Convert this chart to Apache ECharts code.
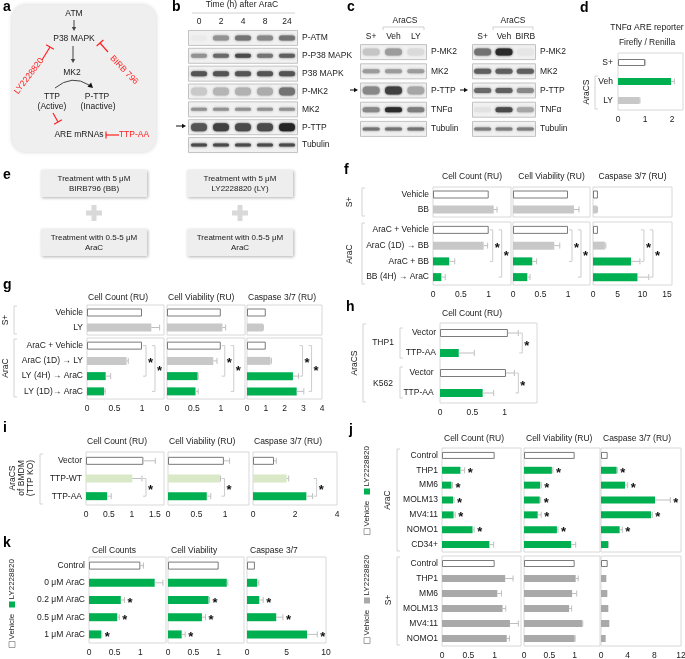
<!DOCTYPE html>
<html><head><meta charset="utf-8">
<script src="https://cdn.jsdelivr.net/npm/echarts@6/dist/echarts.min.js"></script>
<style>html,body{margin:0;padding:0;background:#fff}#c{width:685px;height:659px}</style>
</head><body><div id="c"></div>
<script>
// ===== DATA =====
// b: western blot, band intensity 0..1 per row x lane
const bLanes = ['0', '2', '4', '8', '24'];
const bRows = ['P-ATM', 'P-P38 MAPK', 'P38 MAPK', 'P-MK2', 'MK2', 'P-TTP', 'Tubulin'];
const bBands = [
  [0.02, 0.45, 0.6, 0.5, 0.6],
  [0.45, 0.65, 0.8, 0.6, 0.7],
  [0.75, 0.75, 0.75, 0.75, 0.75],
  [0.18, 0.28, 0.3, 0.32, 0.6],
  [0.45, 0.45, 0.45, 0.45, 0.45],
  [0.75, 0.85, 0.8, 0.8, 0.98],
  [0.8, 0.8, 0.8, 0.8, 0.8]
];
// c: two blots
const cLanesL = ['S+', 'Veh', 'LY'];
const cLanesR = ['S+', 'Veh', 'BIRB'];
const cRows = ['P-MK2', 'MK2', 'P-TTP', 'TNFα', 'Tubulin'];
const cBandsL = [[0.2, 0.4, 0.1], [0.4, 0.4, 0.4], [0.5, 0.85, 0.35], [0.5, 0.95, 0.55], [0.6, 0.6, 0.6]];
const cBandsR = [[0.6, 0.95, 0.04], [0.7, 0.7, 0.7], [0.65, 0.7, 0.5], [0.06, 0.8, 0.35], [0.55, 0.55, 0.55]];
// d
const dCats = ['S+', 'Veh', 'LY'];
const dValues = [1.0, 1.96, 0.79];
const dErrors = [0.02, 0.12, 0.02];
// f
const fCatsS = ['Vehicle', 'BB'];
const fCatsA = ['AraC + Vehicle', 'AraC (1D) → BB', 'AraC + BB', 'BB (4H) → AraC'];
const fCountS = [1.0, 1.09], fCountSErr = [0, 0.06];
const fCountA = [1.0, 0.91, 0.29, 0.15], fCountAErr = [0, 0.07, 0.10, 0.07];
const fViabS = [1.0, 1.11], fViabSErr = [0, 0.09];
const fViabA = [1.0, 0.75, 0.35, 0.26], fViabAErr = [0, 0.10, 0.08, 0.05];
const fCaspS = [1.0, 0.8], fCaspSErr = [0, 0.1];
const fCaspA = [1.0, 2.4, 7.7, 9.0], fCaspAErr = [0, 0.2, 1.8, 2.3];
const fCompare = [[0, 2], [0, 3]];
// g
const gCatsS = ['Vehicle', 'LY'];
const gCatsA = ['AraC + Vehicle', 'AraC (1D) → LY', 'LY (4H) → AraC', 'LY (1D)→ AraC'];
const gCountS = [1.0, 1.17], gCountSErr = [0, 0.15];
const gCountA = [1.0, 0.72, 0.34, 0.31], gCountAErr = [0, 0.03, 0.09, 0.02];
const gViabS = [1.0, 1.03], gViabSErr = [0, 0.06];
const gViabA = [1.0, 0.86, 0.57, 0.53], gViabAErr = [0, 0.07, 0.01, 0.05];
const gCaspS = [1.0, 0.85], gCaspSErr = [0, 0.02];
const gCaspA = [1.0, 1.25, 2.45, 2.65], gCaspAErr = [0, 0.05, 0.3, 0.38];
const gCompare = [[0, 2], [0, 3]];
// h
const hCats = ['Vector', 'TTP-AA', 'Vector ', 'TTP-AA '];
const hGroups = ['THP1', 'K562'];
const hValues = [1.05, 0.29, 1.02, 0.66];
const hErrors = [0.16, 0.24, 0.13, 0.17];
const hCompare = [[0, 1], [2, 3]];
// i
const iCats = ['Vector', 'TTP-WT', 'TTP-AA'];
const iCount = [1.25, 1.01, 0.46], iCountErr = [0.26, 0.21, 0.09];
const iViab = [0.98, 0.91, 0.68], iViabErr = [0.1, 0.01, 0.07];
const iCasp = [1.0, 1.6, 2.54], iCaspErr = [0.11, 0.1, 0.3];
const iCompare = [[1, 2]];
// j
const jCatsA = ['Control', 'THP1', 'MM6', 'MOLM13', 'MV4:11', 'NOMO1', 'CD34+'];
const jCatsS = ['Control', 'THP1', 'MM6', 'MOLM13', 'MV4:11', 'NOMO1'];
const jCountA = [1.0, 0.35, 0.18, 0.21, 0.22, 0.58, 0.9], jCountAErr = [0, 0.08, 0.02, 0.02, 0.03, 0.03, 0.08];
const jViabA = [1.0, 0.55, 0.32, 0.31, 0.27, 0.65, 0.93], jViabAErr = [0, 0.02, 0.02, 0.02, 0.07, 0.02, 0.09];
const jCaspA = [1.0, 2.35, 3.6, 8.1, 7.5, 2.8, 1.1], jCaspAErr = [0, 0.1, 0.4, 2.3, 0.2, 0.4, 0.05];
const jSigA = [0, 1, 1, 1, 1, 1, 0];
const jCountS = [1.0, 1.2, 1.05, 1.15, 1.29, 1.23], jCountSErr = [0, 0.15, 0.08, 0.06, 0.16, 0.05];
const jViabS = [1.0, 1.02, 0.95, 0.89, 1.15, 1.0], jViabSErr = [0, 0.05, 0.09, 0.05, 0.01, 0.01];
const jCaspS = [1.0, 0.8, 0.95, 1.1, 1.25, 0.7], jCaspSErr = [0, 0, 0, 0, 0, 0];
// k
const kCats = ['Control', '0 μM AraC', '0.2 μM AraC', '0.5 μM AraC', '1 μM AraC'];
const kCount = [1.0, 1.28, 0.62, 0.55, 0.24], kCountErr = [0.06, 0.16, 0.07, 0.04, 0.01];
const kViab = [1.0, 1.16, 0.8, 0.67, 0.27], kViabErr = [0, 0.02, 0.02, 0.07, 0.07];
const kCasp = [1.0, 1.3, 1.55, 3.7, 7.6], kCaspErr = [0, 0.2, 0.5, 0.85, 1.3];
const kSig = [0, 0, 1, 1, 1];

// ===== BUILD =====
const FONT = "'Liberation Sans', Arial, Helvetica, sans-serif";
const TXT = '#1a1a1a';
const RED = '#ff2020';
const ERRC = '#bfbfbf';
const BRC = '#cccccc';
const STY = {
  white: {color: '#ffffff', borderColor: '#7a7a7a', borderWidth: 1},
  gray: {color: '#c8c8c8'},
  dgray: {color: '#a9a9a9'},
  green: {color: '#00b050'},
  lgreen: {color: '#d9e8c6'}
};
const grids = [], xAxes = [], yAxes = [], series = [], graphics = [];

function T(x, y, text, o) {
  o = o || {};
  const al = o.align || 'center', va = o.valign || 'middle';
  return {type: 'text', x: x, y: y, rotation: o.rot || 0, silent: true, z: 20,
    style: {text: text, font: (o.weight || 'normal') + ' ' + (o.size || 8.5) + 'px ' + FONT,
      fill: o.color || TXT, textAlign: al, textVerticalAlign: va, align: al, verticalAlign: va}};
}
function L(x1, y1, x2, y2, c, w) {
  return {type: 'line', silent: true, z: 15, shape: {x1: x1, y1: y1, x2: x2, y2: y2}, style: {stroke: c || BRC, lineWidth: w || 1}};
}
function arrowHead(x2, y2, a, c, s) {
  const hx = x2 - s * Math.cos(a), hy = y2 - s * Math.sin(a);
  const px = -Math.sin(a) * s * 0.55, py = Math.cos(a) * s * 0.55;
  return {type: 'polygon', silent: true, z: 15, shape: {points: [[x2, y2], [hx + px, hy + py], [hx - px, hy - py]]}, style: {fill: c}};
}
function arrow(x1, y1, x2, y2, c, s) {
  s = s || 4;
  const a = Math.atan2(y2 - y1, x2 - x1);
  return [L(x1, y1, x2 - s * Math.cos(a), y2 - s * Math.sin(a), c, 1), arrowHead(x2, y2, a, c, s)];
}
function inhibit(x1, y1, x2, y2, c, half) {
  const a = Math.atan2(y2 - y1, x2 - x1);
  const px = -Math.sin(a) * half, py = Math.cos(a) * half;
  return [L(x1, y1, x2, y2, c, 1.2), L(x2 + px, y2 + py, x2 - px, y2 - py, c, 1.2)];
}
function vBracket(x, y1, y2, dir) {
  const d = dir || 1;
  return [{type: 'polyline', silent: true, z: 15, shape: {points: [[x + 3 * d, y1], [x, y1], [x, y2], [x + 3 * d, y2]]}, style: {stroke: '#d3d3d3', lineWidth: 1, fill: null}}];
}
function starEl(x, y) {
  return {type: 'text', x: x, y: y + 3, silent: true,
    style: {text: '*', font: 'bold 13px ' + FONT, fill: '#111', textAlign: 'left', textVerticalAlign: 'middle', align: 'left', verticalAlign: 'middle'}};
}

function barPanel(o) {
  const gi = grids.length;
  const errs = o.errs || o.values.map(() => 0);
  const stars = o.stars || o.values.map(() => 0);
  grids.push({left: o.left, top: o.top, width: o.width, height: o.height, show: true,
    borderColor: '#d8d8d8', borderWidth: 1, backgroundColor: 'rgba(0,0,0,0)', containLabel: false, outerBoundsMode: 'none'});
  xAxes.push({gridIndex: gi, type: 'value', min: 0, max: o.max, interval: o.interval,
    axisLine: {show: false}, axisTick: {show: false}, splitLine: {show: false},
    axisLabel: {show: !!o.showX, fontSize: 8.5, color: TXT, fontFamily: FONT, margin: 5,
      showMinLabel: true, showMaxLabel: !!o.maxLabel, hideOverlap: false}});
  yAxes.push({gridIndex: gi, type: 'category', inverse: true, data: o.cats,
    axisLine: {show: false}, axisTick: {show: false}, splitLine: {show: false},
    axisLabel: {show: !!o.showY, fontSize: 8.5, color: TXT, fontFamily: FONT, margin: o.ymargin || 4, interval: 0}});
  series.push({type: 'bar', xAxisIndex: gi, yAxisIndex: gi, barWidth: o.barW || 8, silent: true, z: 2,
    data: o.values.map((v, i) => ({value: v, itemStyle: STY[o.colors[i]]}))});
  series.push({type: 'custom', xAxisIndex: gi, yAxisIndex: gi, clip: false, silent: true, z: 3,
    encode: {x: 0, y: 1},
    data: o.values.map((v, i) => [v, i, errs[i], stars[i]]),
    renderItem: function (p, api) {
      const v = api.value(0), i = api.value(1), e = api.value(2), s = api.value(3);
      const p0 = api.coord([v, i]), p1 = api.coord([v + e, i]);
      const ch = [];
      if (e > 0) {
        ch.push({type: 'line', shape: {x1: p0[0], y1: p0[1], x2: p1[0], y2: p1[1]}, style: {stroke: ERRC, lineWidth: 1}});
        ch.push({type: 'line', shape: {x1: p1[0], y1: p1[1] - 3, x2: p1[0], y2: p1[1] + 3}, style: {stroke: ERRC, lineWidth: 1}});
      }
      if (s) ch.push(starEl(p1[0] + 3, p1[1]));
      return {type: 'group', children: ch};
    }});
  if (o.brackets) {
    series.push({type: 'custom', xAxisIndex: gi, yAxisIndex: gi, clip: false, silent: true, z: 3,
      encode: {x: 0, y: 1},
      data: o.brackets.map((b, k) => [0, b[0], b[1], k]),
      renderItem: function (p, api) {
        const k = api.value(3);
        const xs = [];
        for (let m = 0; m <= k; m++) {
          const a = o.brackets[m][0], b = o.brackets[m][1];
          let mx = 0;
          for (let r = a; r <= b; r++) mx = Math.max(mx, api.coord([o.values[r] + errs[r], r])[0]);
          let x = mx + 4;
          for (let q = 0; q < m; q++) {
            const a2 = o.brackets[q][0], b2 = o.brackets[q][1];
            if (!(b2 < a || a2 > b)) x = Math.max(x, xs[q] + 9);
          }
          xs.push(x);
        }
        const a = o.brackets[k][0], b = o.brackets[k][1], x = xs[k];
        const ya = api.coord([0, a])[1], yb = api.coord([0, b])[1];
        return {type: 'group', children: [
          {type: 'polyline', shape: {points: [[x - 3, ya], [x, ya], [x, yb], [x - 3, yb]]}, style: {stroke: BRC, lineWidth: 1, fill: null}},
          starEl(x + 2, (ya + yb) / 2)
        ]};
      }});
  }
}

function blotPanel(o) {
  const gi = grids.length;
  grids.push({left: o.left, top: o.top, width: o.width, height: o.height, show: false, containLabel: false, outerBoundsMode: 'none'});
  xAxes.push({gridIndex: gi, type: 'category', position: 'top', data: o.lanes, boundaryGap: true,
    axisLine: {show: false}, axisTick: {show: false}, splitLine: {show: false},
    axisLabel: {show: true, fontSize: 8.5, color: TXT, fontFamily: FONT, margin: o.laneMargin, interval: 0}});
  yAxes.push({gridIndex: gi, type: 'category', position: 'right', inverse: true, data: o.rows,
    axisLine: {show: false}, axisTick: {show: false}, splitLine: {show: false},
    axisLabel: {show: true, fontSize: 8.5, color: TXT, fontFamily: FONT, margin: 4, align: 'left', interval: 0}});
  series.push({type: 'custom', xAxisIndex: gi, yAxisIndex: gi, clip: false, silent: true, z: 1,
    encode: {x: 0, y: 1},
    data: o.rows.map((r, i) => [0, i]),
    renderItem: function (p, api) {
      const cs = p.coordSys;
      const y = api.coord([0, api.value(1)])[1];
      return {type: 'rect', shape: {x: cs.x + 0.5, y: y - o.stripH / 2, width: cs.width - 1, height: o.stripH},
        style: {fill: '#f1f1f1', stroke: '#c2c2c2', lineWidth: 1}};
    }});
  const bd = [];
  o.bands.forEach((row, ri) => row.forEach((v, li) => bd.push([li, ri, v])));
  series.push({type: 'custom', xAxisIndex: gi, yAxisIndex: gi, clip: false, silent: true, z: 2,
    encode: {x: 0, y: 1},
    data: bd,
    renderItem: function (p, api) {
      const c = api.coord([api.value(0), api.value(1)]);
      const v = api.value(2);
      const h = o.bandH[api.value(1)];
      const g = Math.round(238 - v * 205);
      const col = 'rgb(' + g + ',' + g + ',' + g + ')';
      return {type: 'rect', shape: {x: c[0] - o.bandW / 2, y: c[1] - h / 2, width: o.bandW, height: h, r: h / 2},
        style: {fill: col, shadowBlur: 2.5, shadowColor: col}};
    }});
}

// ----- panel letters -----
[['a', 3, 0], ['b', 172, 0], ['c', 347, 0], ['d', 580, 1], ['e', 3, 168], ['f', 344, 163], ['g', 3, 278],
 ['h', 346, 300], ['i', 3, 421], ['j', 349, 423], ['k', 3, 536]].forEach(l => graphics.push(T(l[1], l[2], l[0], {size: 14, weight: 'bold', align: 'left', valign: 'top', color: '#000'})));

// ----- panel a (schematic) -----
graphics.push({type: 'rect', silent: true, z: 5, shape: {x: 12, y: 5, width: 144, height: 147, r: 14},
  style: {fill: '#efefef', shadowBlur: 4, shadowColor: 'rgba(0,0,0,0.18)'}});
graphics.push(T(74, 14, 'ATM'), T(74, 39, 'P38 MAPK'), T(72, 73, 'MK2'),
  T(52, 97, 'TTP'), T(52, 107, '(Active)'), T(97, 97, 'P-TTP'), T(98, 107, '(Inactive)'),
  T(79, 135, 'ARE mRNAs'), T(134, 135, 'TTP-AA', {color: RED}),
  T(29, 76, 'LY2228820', {color: RED, rot: 0.92}), T(124, 70, 'BIRB 796', {color: RED, rot: -0.8}));
graphics.push(...arrow(74, 20, 74, 31, '#444'), ...arrow(73, 46, 73, 63, '#444'));
graphics.push({type: 'bezierCurve', silent: true, z: 15, shape: {x1: 55, y1: 88, cpx1: 72, cpy1: 74, x2: 89, y2: 85}, style: {stroke: '#444', lineWidth: 1, fill: null}});
graphics.push(arrowHead(93, 88, Math.atan2(88 - 80, 93 - 84), '#111', 5));
graphics.push(...inhibit(42, 60, 50, 47, RED, 4.5), ...inhibit(108, 52, 100, 43, RED, 4.5),
  ...inhibit(53, 113, 58, 122, RED, 4.5), ...inhibit(119, 135, 106, 135, RED, 3.5));

// ----- panel b -----
graphics.push(T(242, 5, 'Time (h) after AraC'), L(192, 13, 295, 13, '#d0d0d0', 1));
blotPanel({left: 188, top: 29, width: 110, height: 125, lanes: bLanes, rows: bRows, bands: bBands,
  laneMargin: 3, stripH: 15, bandW: 16, bandH: [5, 4, 5, 8, 3, 8, 3]});
graphics.push(...arrow(176, 126, 186, 126, '#111', 4));

// ----- panel c -----
blotPanel({left: 360, top: 42.5, width: 67, height: 96, lanes: cLanesL, rows: cRows, bands: cBandsL,
  laneMargin: 1, stripH: 15, bandW: 17, bandH: [7, 4, 8, 5, 3]});
blotPanel({left: 472, top: 42.5, width: 64, height: 96, lanes: cLanesR, rows: cRows, bands: cBandsR,
  laneMargin: 1, stripH: 15, bandW: 17, bandH: [7, 5, 5, 5, 3]});
graphics.push(T(405, 21, 'AraCS'), T(513, 21, 'AraCS'));
graphics.push({type: 'polyline', silent: true, shape: {points: [[383, 30], [383, 27], [424, 27], [424, 30]]}, style: {stroke: '#cfcfcf', fill: null}});
graphics.push({type: 'polyline', silent: true, shape: {points: [[493, 30], [493, 27], [533, 27], [533, 30]]}, style: {stroke: '#cfcfcf', fill: null}});
graphics.push(...arrow(350, 90, 358, 90, '#111', 4), ...arrow(460, 90, 468, 90, '#111', 4));

// ----- panel d -----
graphics.push(T(647, 28, 'TNFα ARE reporter'), T(647, 43, 'Firefly / Renilla'));
barPanel({left: 618, top: 53, width: 65, height: 57, cats: dCats, values: dValues, errs: dErrors,
  colors: ['white', 'green', 'gray'], max: 2.4, interval: 1, showX: true, showY: true, barW: 7, ymargin: 5});
graphics.push(T(587, 92, 'AraCS', {rot: Math.PI / 2}), ...vBracket(595, 76, 109));

// ----- panel e -----
function ebox(x, y, w, h, l1, l2) {
  graphics.push({type: 'rect', silent: true, z: 5, shape: {x: x, y: y, width: w, height: h},
    style: {fill: '#eeeeee', shadowBlur: 3, shadowOffsetX: 1, shadowOffsetY: 1, shadowColor: 'rgba(0,0,0,0.3)'}});
  graphics.push(T(x + w / 2, y + h / 2 - 5, l1, {size: 8}), T(x + w / 2, y + h / 2 + 5, l2, {size: 8}));
}
ebox(41, 170, 106, 27, 'Treatment with 5 μM', 'BIRB796 (BB)');
ebox(187, 170, 106, 27, 'Treatment with 5 μM', 'LY2228820 (LY)');
ebox(41, 229, 106, 27, 'Treatment with 0.5-5 μM', 'AraC');
ebox(187, 229, 106, 27, 'Treatment with 0.5-5 μM', 'AraC');
[[94, 213], [240, 213]].forEach(p => {
  graphics.push({type: 'rect', silent: true, shape: {x: p[0] - 8, y: p[1] - 2.5, width: 16, height: 5}, style: {fill: '#d9d9d9'}});
  graphics.push({type: 'rect', silent: true, shape: {x: p[0] - 2.5, y: p[1] - 8, width: 5, height: 16}, style: {fill: '#d9d9d9'}});
});

// ----- panel f -----
const fCols = [
  {left: 433, width: 78, max: 1.4, interval: 0.5, s: fCountS, se: fCountSErr, a: fCountA, ae: fCountAErr, title: 'Cell Count (RU)'},
  {left: 513, width: 77, max: 1.4, interval: 0.5, s: fViabS, se: fViabSErr, a: fViabA, ae: fViabAErr, title: 'Cell Viability (RU)'},
  {left: 593, width: 79, max: 16, interval: 5, s: fCaspS, se: fCaspSErr, a: fCaspA, ae: fCaspAErr, title: 'Caspase 3/7 (RU)'}
];
fCols.forEach((c, ci) => {
  graphics.push(T(c.left + c.width / 2, 177, c.title));
  barPanel({left: c.left, top: 187, width: c.width, height: 30, cats: fCatsS, values: c.s, errs: c.se,
    colors: ['white', 'gray'], max: c.max, interval: c.interval, showY: ci === 0});
  barPanel({left: c.left, top: 222, width: c.width, height: 63, cats: fCatsA, values: c.a, errs: c.ae,
    colors: ['white', 'gray', 'green', 'green'], max: c.max, interval: c.interval, showY: ci === 0, showX: true, brackets: fCompare});
});
graphics.push(T(350, 202, 'S+', {rot: Math.PI / 2}), T(350, 254, 'AraC', {rot: Math.PI / 2}),
  ...vBracket(362, 188, 216), ...vBracket(362, 223, 284));

// ----- panel g -----
const gCols = [
  {left: 87, width: 77, max: 1.4, interval: 0.5, s: gCountS, se: gCountSErr, a: gCountA, ae: gCountAErr, title: 'Cell Count (RU)'},
  {left: 167, width: 78, max: 1.45, interval: 0.5, s: gViabS, se: gViabSErr, a: gViabA, ae: gViabAErr, title: 'Cell Viability (RU)'},
  {left: 247, width: 75, max: 4, interval: 1, s: gCaspS, se: gCaspSErr, a: gCaspA, ae: gCaspAErr, title: 'Caspase 3/7 (RU)', ml: true}
];
gCols.forEach((c, ci) => {
  graphics.push(T(c.left + 1, 298, c.title, {align: 'left'}));
  barPanel({left: c.left, top: 305, width: c.width, height: 30, cats: gCatsS, values: c.s, errs: c.se,
    colors: ['white', 'gray'], max: c.max, interval: c.interval, showY: ci === 0});
  barPanel({left: c.left, top: 338, width: c.width, height: 61, cats: gCatsA, values: c.a, errs: c.ae,
    colors: ['white', 'gray', 'green', 'green'], max: c.max, interval: c.interval, showY: ci === 0, showX: true,
    maxLabel: c.ml, brackets: gCompare});
});
graphics.push(T(6, 320, 'S+', {rot: Math.PI / 2}), T(6, 368, 'AraC', {rot: Math.PI / 2}),
  ...vBracket(14, 306, 334), ...vBracket(14, 339, 397));

// ----- panel h -----
graphics.push(T(442, 314, 'Cell Count (RU)', {align: 'left'}));
barPanel({left: 440, top: 323, width: 97, height: 80, cats: hCats, values: hValues, errs: hErrors,
  colors: ['white', 'green', 'white', 'green'], max: 1.5, interval: 0.5, showX: true, showY: true, brackets: hCompare});
graphics.push(T(383, 343, hGroups[0]), T(383, 384, hGroups[1]),
  ...vBracket(400, 328, 358), ...vBracket(400, 367, 398),
  T(355, 363, 'AraCS', {rot: Math.PI / 2}), ...vBracket(363, 324, 402));

// ----- panel i -----
const iCols = [
  {left: 86, width: 78, max: 1.7, interval: 0.5, v: iCount, e: iCountErr, title: 'Cell Count (RU)'},
  {left: 168, width: 81, max: 1.42, interval: 0.5, v: iViab, e: iViabErr, title: 'Cell Viability (RU)'},
  {left: 253, width: 84, max: 4, interval: 2, v: iCasp, e: iCaspErr, title: 'Caspase 3/7 (RU)', ml: true}
];
iCols.forEach((c, ci) => {
  graphics.push(T(c.left + 1, 442, c.title, {align: 'left'}));
  barPanel({left: c.left, top: 452, width: c.width, height: 53, cats: iCats, values: c.v, errs: c.e,
    colors: ['white', 'lgreen', 'green'], max: c.max, interval: c.interval, showY: ci === 0, showX: true,
    maxLabel: c.ml, brackets: iCompare});
});
graphics.push(T(13, 478, 'AraCS', {rot: Math.PI / 2, size: 8.5}), T(22, 478, 'of BMDM', {rot: Math.PI / 2}),
  T(31, 478, '(TTP KO)', {rot: Math.PI / 2}), ...vBracket(40, 454, 504));

// ----- panel j -----
const jCols = [
  {left: 442, width: 79, max: 1.5, interval: 0.5, a: jCountA, ae: jCountAErr, s: jCountS, se: jCountSErr, title: 'Cell Count (RU)'},
  {left: 524, width: 76, max: 1.5, interval: 0.5, a: jViabA, ae: jViabAErr, s: jViabS, se: jViabSErr, title: 'Cell Viability (RU)'},
  {left: 601, width: 80, max: 12, interval: 4, a: jCaspA, ae: jCaspAErr, s: jCaspS, se: jCaspSErr, title: 'Caspase 3/7 (RU)', ml: true}
];
jCols.forEach((c, ci) => {
  graphics.push(T(c.left + 2, 439, c.title, {align: 'left'}));
  barPanel({left: c.left, top: 448, width: c.width, height: 104, cats: jCatsA, values: c.a, errs: c.ae, stars: jSigA,
    colors: ['white', 'green', 'green', 'green', 'green', 'green', 'green'], max: c.max, interval: c.interval, showY: ci === 0, barW: 7});
  barPanel({left: c.left, top: 556, width: c.width, height: 90, cats: jCatsS, values: c.s, errs: c.se,
    colors: ['white', 'dgray', 'dgray', 'dgray', 'dgray', 'dgray'], max: c.max, interval: c.interval, showY: ci === 0, showX: true,
    maxLabel: c.ml, barW: 7});
});
graphics.push(T(388, 500, 'AraC', {rot: Math.PI / 2}), T(389, 600, 'S+', {rot: Math.PI / 2}),
  ...vBracket(397, 449, 551), ...vBracket(397, 557, 645));

function vLegend(cx, cy, col) {
  const sq = 6, wV = 26, wL = 39;
  const total = sq + 2 + wV + 6 + sq + 2 + wL;
  let x = -total / 2;
  const ch = [];
  ch.push({type: 'rect', shape: {x: x, y: -sq / 2, width: sq, height: sq}, style: {fill: '#fff', stroke: '#8a8a8a', lineWidth: 0.8}});
  x += sq + 2;
  ch.push({type: 'text', x: x, y: 0, style: {text: 'Vehicle', font: '8px ' + FONT, fill: TXT, textAlign: 'left', textVerticalAlign: 'middle', align: 'left', verticalAlign: 'middle'}});
  x += wV + 6;
  ch.push({type: 'rect', shape: {x: x, y: -sq / 2, width: sq, height: sq}, style: {fill: col}});
  x += sq + 2;
  ch.push({type: 'text', x: x, y: 0, style: {text: 'LY2228820', font: '8px ' + FONT, fill: TXT, textAlign: 'left', textVerticalAlign: 'middle', align: 'left', verticalAlign: 'middle'}});
  graphics.push({type: 'group', x: cx, y: cy, rotation: Math.PI / 2, silent: true, z: 20, children: ch});
}
vLegend(367, 491, STY.green.color);
vLegend(367, 600, STY.dgray.color);

// ----- panel k -----
const kCols = [
  {left: 89, width: 77, max: 1.5, interval: 0.5, v: kCount, e: kCountErr, title: 'Cell Counts'},
  {left: 168, width: 76, max: 1.5, interval: 0.5, v: kViab, e: kViabErr, title: 'Cell Viability'},
  {left: 247, width: 79, max: 10, interval: 5, v: kCasp, e: kCaspErr, title: 'Caspase 3/7', ml: true}
];
kCols.forEach((c, ci) => {
  graphics.push(T(c.left + 3, 551, c.title, {align: 'left'}));
  barPanel({left: c.left, top: 557, width: c.width, height: 86, cats: kCats, values: c.v, errs: c.e, stars: kSig,
    colors: ['white', 'green', 'green', 'green', 'green'], max: c.max, interval: c.interval, showY: ci === 0, showX: true,
    maxLabel: c.ml});
});
vLegend(12, 604, STY.green.color);

// ===== RENDER =====
const chart = echarts.init(document.getElementById('c'), null, {renderer: 'canvas', width: 685, height: 659});
chart.setOption({
  animation: false,
  backgroundColor: '#ffffff',
  textStyle: {fontFamily: FONT},
  grid: grids, xAxis: xAxes, yAxis: yAxes, series: series,
  graphic: {elements: graphics}
});
</script></body></html>
